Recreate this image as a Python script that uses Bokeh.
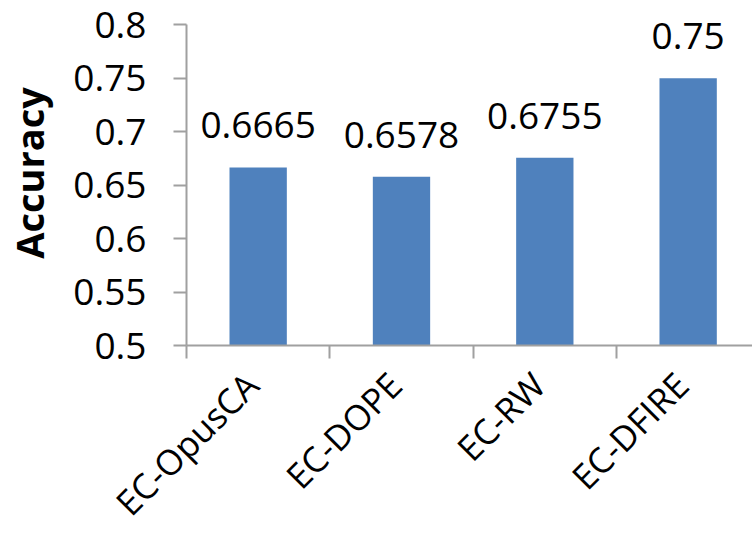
import math
from bokeh.plotting import figure
from bokeh.models import ColumnDataSource, FixedTicker, LabelSet, Range1d
from bokeh.core.properties import value
from bokeh.embed import file_html
from bokeh.resources import INLINE

categories = ["EC-OpusCA", "EC-DOPE", "EC-RW", "EC-DFIRE"]
accuracy = [0.6665, 0.6578, 0.6755, 0.75]
value_labels = ["0.6665", "0.6578", "0.6755", "0.75"]
y_ticks = [0.5, 0.55, 0.6, 0.65, 0.7, 0.75, 0.8]
y_tick_labels = ["0.5", "0.55", "0.6", "0.65", "0.7", "0.75", "0.8"]

FONT = "Open Sans"
BAR = "#4F81BD"
AXIS = "#a0a0a0"

n = len(categories)
centers = [i + 0.5 for i in range(n)]

src = ColumnDataSource(dict(x=centers, top=accuracy, label=value_labels))

p = figure(width=752, height=544, output_backend="svg", toolbar_location=None,
           x_range=Range1d(0, 3.949), y_range=Range1d(0.5, 0.8226),
           min_border_left=183, min_border_right=0, min_border_top=0,
           min_border_bottom=198)
p.outline_line_color = None
p.xgrid.visible = False
p.ygrid.visible = False
p.background_fill_color = "white"
p.border_fill_color = "white"

p.vbar(x="x", top="top", bottom=0.5, width=0.4, source=src,
       fill_color=BAR, line_color=None)

labels = LabelSet(x="x", y="top", text="label", source=src,
                  text_align="center", text_baseline="alphabetic",
                  y_offset=29, text_font=value(FONT), text_font_size="37px",
                  text_color="black")
p.add_layout(labels)

# x axis: boundary ticks as minor ticks, labels near the centres
label_shift = -0.045
p.xaxis.ticker = FixedTicker(ticks=[c + label_shift for c in centers],
                             minor_ticks=list(range(n + 1)))
p.xaxis.major_label_overrides = {c + label_shift: name for c, name in zip(centers, categories)}
p.xaxis.major_label_orientation = math.pi / 4
p.xaxis.major_tick_out = 0
p.xaxis.major_tick_in = 0
p.xaxis.minor_tick_out = 13
p.xaxis.minor_tick_in = 0
p.xaxis.minor_tick_line_color = AXIS
p.xaxis.minor_tick_line_width = 2
p.xaxis.axis_line_color = AXIS
p.xaxis.axis_line_width = 2
p.xaxis.major_label_standoff = 20
p.xaxis.major_label_text_font = FONT
p.xaxis.major_label_text_font_size = "35px"
p.xaxis.major_label_text_color = "black"

p.yaxis.ticker = FixedTicker(ticks=y_ticks)
p.yaxis.bounds = (0.5, 0.8)
p.yaxis.major_label_overrides = {t: s for t, s in zip(y_ticks, y_tick_labels)}
p.yaxis.major_tick_out = 13
p.yaxis.major_tick_in = 0
p.yaxis.minor_tick_line_color = None
p.yaxis.major_tick_line_color = AXIS
p.yaxis.major_tick_line_width = 2
p.yaxis.axis_line_color = AXIS
p.yaxis.axis_line_width = 2
p.yaxis.major_label_standoff = 27
p.yaxis.major_label_text_font = FONT
p.yaxis.major_label_text_font_size = "37px"
p.yaxis.major_label_text_color = "black"
p.yaxis.axis_label = "Accuracy"
p.yaxis.axis_label_text_font = FONT
p.yaxis.axis_label_text_font_style = "bold"
p.yaxis.axis_label_text_font_size = "38px"
p.yaxis.axis_label_text_color = "black"
p.yaxis.axis_label_standoff = 15

open("out.html", "w").write(file_html(p, INLINE))
